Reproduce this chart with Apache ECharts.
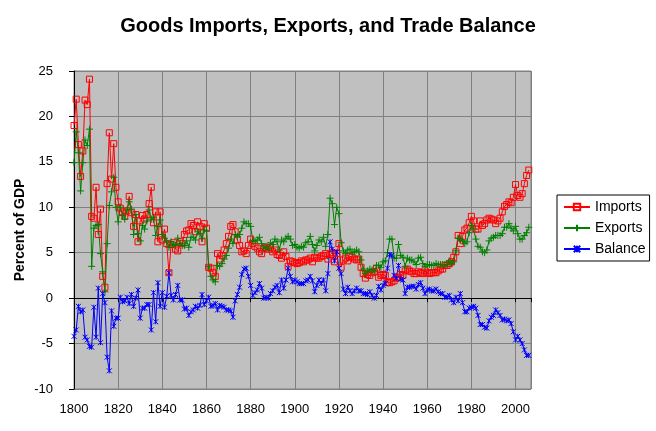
<!DOCTYPE html>
<html>
<head>
<meta charset="utf-8">
<script src="https://cdn.jsdelivr.net/npm/echarts@6/dist/echarts.min.js"></script>
<style>html,body{margin:0;padding:0;background:#fff}#c{width:656px;height:431px}</style>
</head>
<body>
<div id="c"></div>
<script>
const firstYear = 1800;
const seriesNames = ['Imports', 'Exports', 'Balance'];
const xTickYears = [1800, 1820, 1840, 1860, 1880, 1900, 1920, 1940, 1960, 1980, 2000];
const yTicks = [-10, -5, 0, 5, 10, 15, 20, 25];

const imports = [
  19.0,21.9,16.9,13.4,16.2,21.8,21.3,24.1,9.0,8.8,
  12.2,7.0,9.8,2.4,1.2,12.6,18.2,13.1,17.0,12.2,
  10.6,9.9,9.5,9.0,9.6,11.2,9.4,7.9,9.2,6.2,
  8.5,9.1,8.7,9.2,10.4,12.2,8.3,9.5,6.2,9.5,
  6.4,7.6,6.0,2.8,5.9,6.1,5.4,5.2,6.2,6.0,
  7.0,7.4,7.5,8.2,8.0,7.3,8.4,7.9,6.2,8.2,
  7.7,3.4,3.3,2.8,2.4,4.9,4.3,4.7,5.3,6.0,
  6.8,7.9,8.1,7.3,6.4,5.8,5.1,5.2,4.9,5.8,
  6.5,6.0,5.7,5.5,5.1,4.9,5.5,5.6,5.4,5.6,
  5.1,5.3,4.8,4.7,4.4,5.1,4.6,3.5,4.1,4.0,
  3.9,3.8,3.9,4.1,4.0,4.2,4.2,4.4,4.0,4.5,
  4.4,4.4,4.6,4.7,4.9,4.3,4.8,5.0,4.0,4.9,
  6.0,3.4,4.2,4.4,4.1,4.6,4.5,4.3,4.2,4.3,
  3.4,2.7,2.2,2.6,2.5,2.8,2.9,3.3,2.3,2.5,
  2.6,2.5,1.7,1.7,1.8,1.9,2.2,2.3,2.6,2.5,
  3.0,3.2,3.0,2.9,2.7,2.7,2.9,2.8,2.7,3.0,
  2.8,2.7,2.8,2.8,2.8,3.0,3.2,3.2,3.6,3.6,
  3.8,4.0,4.5,5.1,6.9,6.0,6.8,7.5,7.7,8.3,
  9.0,8.5,7.6,7.6,8.5,8.0,8.2,8.6,8.8,8.7,
  8.6,8.2,8.5,8.8,9.5,10.1,10.3,10.6,10.5,11.1,
  12.5,11.3,11.1,11.5,12.6,13.5,14.1
];

const exports = [
  14.9,18.3,16.0,11.8,14.9,17.4,16.8,18.6,3.5,7.7,
  8.0,8.1,4.9,2.9,0.7,6.0,10.2,11.7,13.3,10.0,
  8.4,10.0,9.1,8.7,9.7,10.6,9.8,7.0,9.2,7.1,
  6.3,8.0,7.6,8.5,9.7,8.7,8.9,6.9,7.9,8.6,
  7.0,6.6,6.2,5.6,6.2,5.9,5.8,6.6,6.0,5.8,
  5.8,6.3,5.6,6.7,6.7,6.4,7.3,7.1,6.6,7.5,
  7.4,3.5,2.4,2.0,1.8,3.6,3.5,3.8,4.3,4.7,
  5.5,6.5,6.0,7.0,6.8,7.0,7.7,8.4,8.2,8.2,
  7.9,6.3,6.3,6.4,6.7,6.0,5.5,5.7,5.4,6.1,
  5.9,6.5,6.2,5.3,6.4,6.2,6.6,6.8,6.5,5.8,
  5.9,5.6,5.5,5.7,5.6,6.1,6.2,6.8,5.9,5.2,
  5.8,6.4,6.2,6.7,5.7,7.0,11.0,10.4,8.1,10.0,
  9.3,6.1,5.2,4.9,5.3,5.4,5.0,5.1,5.3,5.1,
  4.2,3.2,2.7,3.0,3.2,3.1,2.9,3.6,3.6,3.4,
  4.0,4.1,5.0,6.5,6.5,4.4,4.4,5.9,4.7,4.5,
  3.5,4.4,4.2,4.2,4.0,3.7,4.4,4.5,3.8,3.5,
  3.7,3.7,3.6,3.6,3.8,3.7,3.7,3.7,3.7,3.7,
  4.1,3.8,4.0,5.2,6.6,6.5,6.3,6.0,6.2,7.2,
  8.0,7.6,6.5,5.7,5.6,5.1,5.0,5.3,6.3,6.6,
  6.7,6.9,6.9,6.9,7.1,7.8,7.8,8.2,7.7,7.4,
  7.9,7.1,6.5,6.5,6.9,7.2,7.8
];

const balance = [
  -4.2,-3.5,-0.9,-1.5,-1.3,-4.3,-4.6,-5.3,-5.4,-1.0,
  -4.3,1.1,-4.9,0.5,-0.5,-6.5,-8.0,-1.4,-3.1,-2.2,
  -2.2,0.1,-0.4,-0.3,0.1,-0.6,0.4,-0.9,0.0,0.9,
  -2.2,-1.1,-1.1,-0.7,-0.7,-3.5,0.6,-2.6,1.7,-0.9,
  0.6,-1.0,0.2,2.8,0.3,-0.2,0.4,1.4,-0.2,-0.2,
  -1.2,-1.1,-1.9,-1.5,-1.3,-0.9,-1.1,-0.8,0.4,-0.7,
  -0.3,0.1,-0.9,-0.8,-0.6,-1.3,-0.8,-0.9,-1.0,-1.3,
  -1.3,-1.4,-2.1,-0.3,0.4,1.2,2.6,3.2,3.3,2.4,
  1.4,0.3,0.6,0.9,1.6,1.1,0.0,0.1,0.0,0.5,
  0.8,1.2,1.4,0.6,2.0,1.1,2.0,3.3,2.4,1.8,
  2.0,1.8,1.6,1.6,1.6,1.9,2.0,2.4,1.9,0.7,
  1.4,2.0,1.6,2.0,0.8,2.7,6.2,5.4,4.1,5.1,
  3.3,2.7,1.0,0.5,1.2,0.8,0.5,0.8,1.1,0.8,
  0.8,0.5,0.5,0.4,0.7,0.3,0.0,0.3,1.3,0.9,
  1.4,1.6,3.3,4.8,4.7,2.5,2.2,3.6,2.1,2.0,
  0.5,1.2,1.2,1.3,1.3,1.0,1.5,1.7,1.1,0.5,
  0.9,1.0,0.8,0.8,1.0,0.7,0.5,0.5,0.1,0.1,
  0.3,-0.2,-0.5,0.1,-0.3,0.5,-0.5,-1.5,-1.5,-1.1,
  -1.0,-0.9,-1.1,-1.9,-2.9,-2.9,-3.2,-3.3,-2.5,-2.1,
  -1.9,-1.3,-1.6,-1.9,-2.4,-2.3,-2.5,-2.4,-2.8,-3.7,
  -4.6,-4.2,-4.6,-5.0,-5.7,-6.3,-6.3
];

const FONT = 'Arial, "Liberation Sans", sans-serif';
function pairs(arr) { return arr.map((v, i) => [firstYear + i, v]); }

const chart = echarts.init(document.getElementById('c'), null, {renderer: 'canvas'});
const option = {
  animation: false,
  backgroundColor: '#ffffff',
  textStyle: { fontFamily: FONT },
  title: {
    text: 'Goods Imports, Exports, and Trade Balance',
    left: 'center', top: 11,
    textStyle: { fontFamily: FONT, fontSize: 20, fontWeight: 'bold', color: '#000' }
  },
  grid: {
    left: 74, top: 71, width: 457, height: 318,
    show: true, backgroundColor: '#C0C0C0', borderColor: '#808080', borderWidth: 1
  },
  legend: {
    orient: 'vertical', left: 557, top: 195,
    itemWidth: 26, itemHeight: 8, itemGap: 7,
    padding: [5, 4, 5, 6],
    borderColor: '#000', borderWidth: 1, backgroundColor: '#fff',
    textStyle: { fontFamily: FONT, fontSize: 14, color: '#000' },
    data: seriesNames
  },
  xAxis: [
    {
      type: 'value', min: firstYear, max: 2007, interval: 20, position: 'bottom',
      axisLine: { show: false, onZero: false },
      axisTick: { show: false },
      splitLine: { show: true, lineStyle: { color: '#808080', width: 1 } },
      axisLabel: {
        margin: 14, fontSize: 13, color: '#000', fontFamily: FONT, showMaxLabel: false,
        formatter: v => (xTickYears.indexOf(v) >= 0 ? String(v) : '')
      }
    },
    {
      type: 'value', min: firstYear, max: 2007, interval: 20, position: 'bottom',
      axisLine: { show: true, onZero: true, lineStyle: { color: '#000', width: 1 } },
      axisTick: { show: true, length: 4, lineStyle: { color: '#000' } },
      axisLabel: { show: false },
      splitLine: { show: false }
    }
  ],
  yAxis: {
    type: 'value', min: yTicks[0], max: yTicks[yTicks.length - 1], interval: 5,
    name: 'Percent of GDP', nameLocation: 'middle', nameGap: 47, nameRotate: 90,
    nameMoveOverlap: false,
    nameTextStyle: { fontFamily: FONT, fontWeight: 'bold', fontSize: 14, color: '#000' },
    axisLine: { show: true, lineStyle: { color: '#000', width: 1 } },
    axisTick: { show: true, length: 5, lineStyle: { color: '#000' } },
    axisLabel: { margin: 21, fontSize: 13, color: '#000', fontFamily: FONT },
    splitLine: { show: true, lineStyle: { color: '#808080', width: 1 } }
  },
  series: [
    {
      name: 'Imports', type: 'line', xAxisIndex: 0, data: pairs(imports),
      symbol: 'rect', symbolSize: 6,
      lineStyle: { color: '#FF0000', width: 1 },
      itemStyle: { color: 'rgba(0,0,0,0)', borderColor: '#FF0000', borderWidth: 1 },
      emphasis: { disabled: true }
    },
    {
      name: 'Exports', type: 'line', xAxisIndex: 0, data: pairs(exports),
      symbol: 'path://M5,0L5,10M0,5L10,5', symbolSize: 7,
      lineStyle: { color: '#008000', width: 1 },
      itemStyle: { color: 'rgba(0,0,0,0)', borderColor: '#008000', borderWidth: 1 },
      emphasis: { disabled: true }
    },
    {
      name: 'Balance', type: 'line', xAxisIndex: 0, data: pairs(balance),
      symbol: 'path://M0,0L10,10M10,0L0,10M5,0L5,10', symbolSize: 5,
      lineStyle: { color: '#0000FF', width: 1 },
      itemStyle: { color: 'rgba(0,0,0,0)', borderColor: '#0000FF', borderWidth: 1 },
      emphasis: { disabled: true }
    }
  ]
};
chart.setOption(option);
</script>
</body>
</html>
